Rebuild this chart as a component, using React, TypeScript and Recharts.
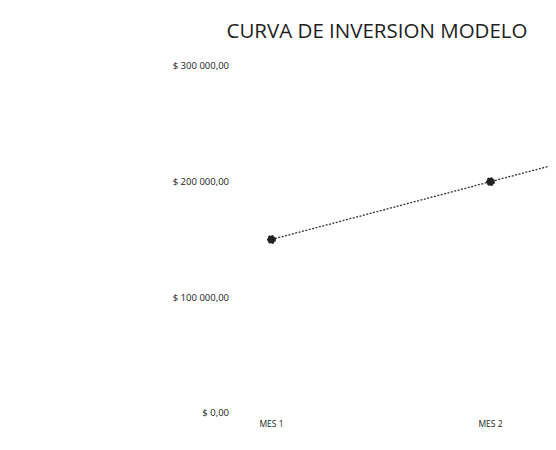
import React from "react";
import { LineChart, Line, XAxis, YAxis } from "recharts";

const categories = ["MES 1", "MES 2", "MES 3"];
const inversion = [150000, 200000, 250000];
const yTicks = [0, 100000, 200000, 300000];
const xTicks = ["MES 1", "MES 2"];
const title = "CURVA DE INVERSION MODELO";

const data = categories.map((mes, i) => ({ mes, inversion: inversion[i] }));

const fmt = (v: number) => {
  if (v === 0) return "$ 0,00";
  const s = Math.round(v).toString().replace(/\B(?=(\d{3})+(?!\d))/g, " ");
  return `$ ${s},00`;
};

export default function App() {
  return (
    <div style={{ position: "relative", width: 548, height: 442, overflow: "hidden", background: "#fff" }}>
      <div
        style={{
          position: "absolute",
          left: 0,
          width: 738,
          top: 8,
          textAlign: "center",
          fontFamily: "'Open Sans', sans-serif",
          fontSize: 20.5,
          color: "#1e1e1e",
          whiteSpace: "nowrap",
        }}
      >
        {title}
      </div>
      <LineChart
        width={760}
        height={440}
        data={data}
        margin={{ top: 58, right: 23, bottom: 8, left: 0 }}
      >
        <XAxis
          dataKey="mes"
          ticks={xTicks}
          axisLine={false}
          tickLine={false}
          tickSize={0}
          tickMargin={8}
          height={27}
          padding={{ left: 35.5, right: 35.5 }}
          tick={{ fontSize: 8.5, fill: "#222", fontFamily: "'Open Sans', sans-serif" }}
        />
        <YAxis
          domain={[0, 300000]}
          ticks={yTicks}
          width={228}
          axisLine={false}
          tickLine={false}
          tickSize={0}
          tickMargin={7}
          tickFormatter={fmt}
          tick={{ fontSize: 9.5, fill: "#222", fontFamily: "'Open Sans', sans-serif" }}
        />
        <Line
          type="linear"
          dataKey="inversion"
          stroke="#333"
          strokeWidth={1.3}
          strokeDasharray="2 1.5"
          dot={{ r: 3.8, fill: "#222", stroke: "#222" }}
          isAnimationActive={false}
        />
      </LineChart>
    </div>
  );
}
